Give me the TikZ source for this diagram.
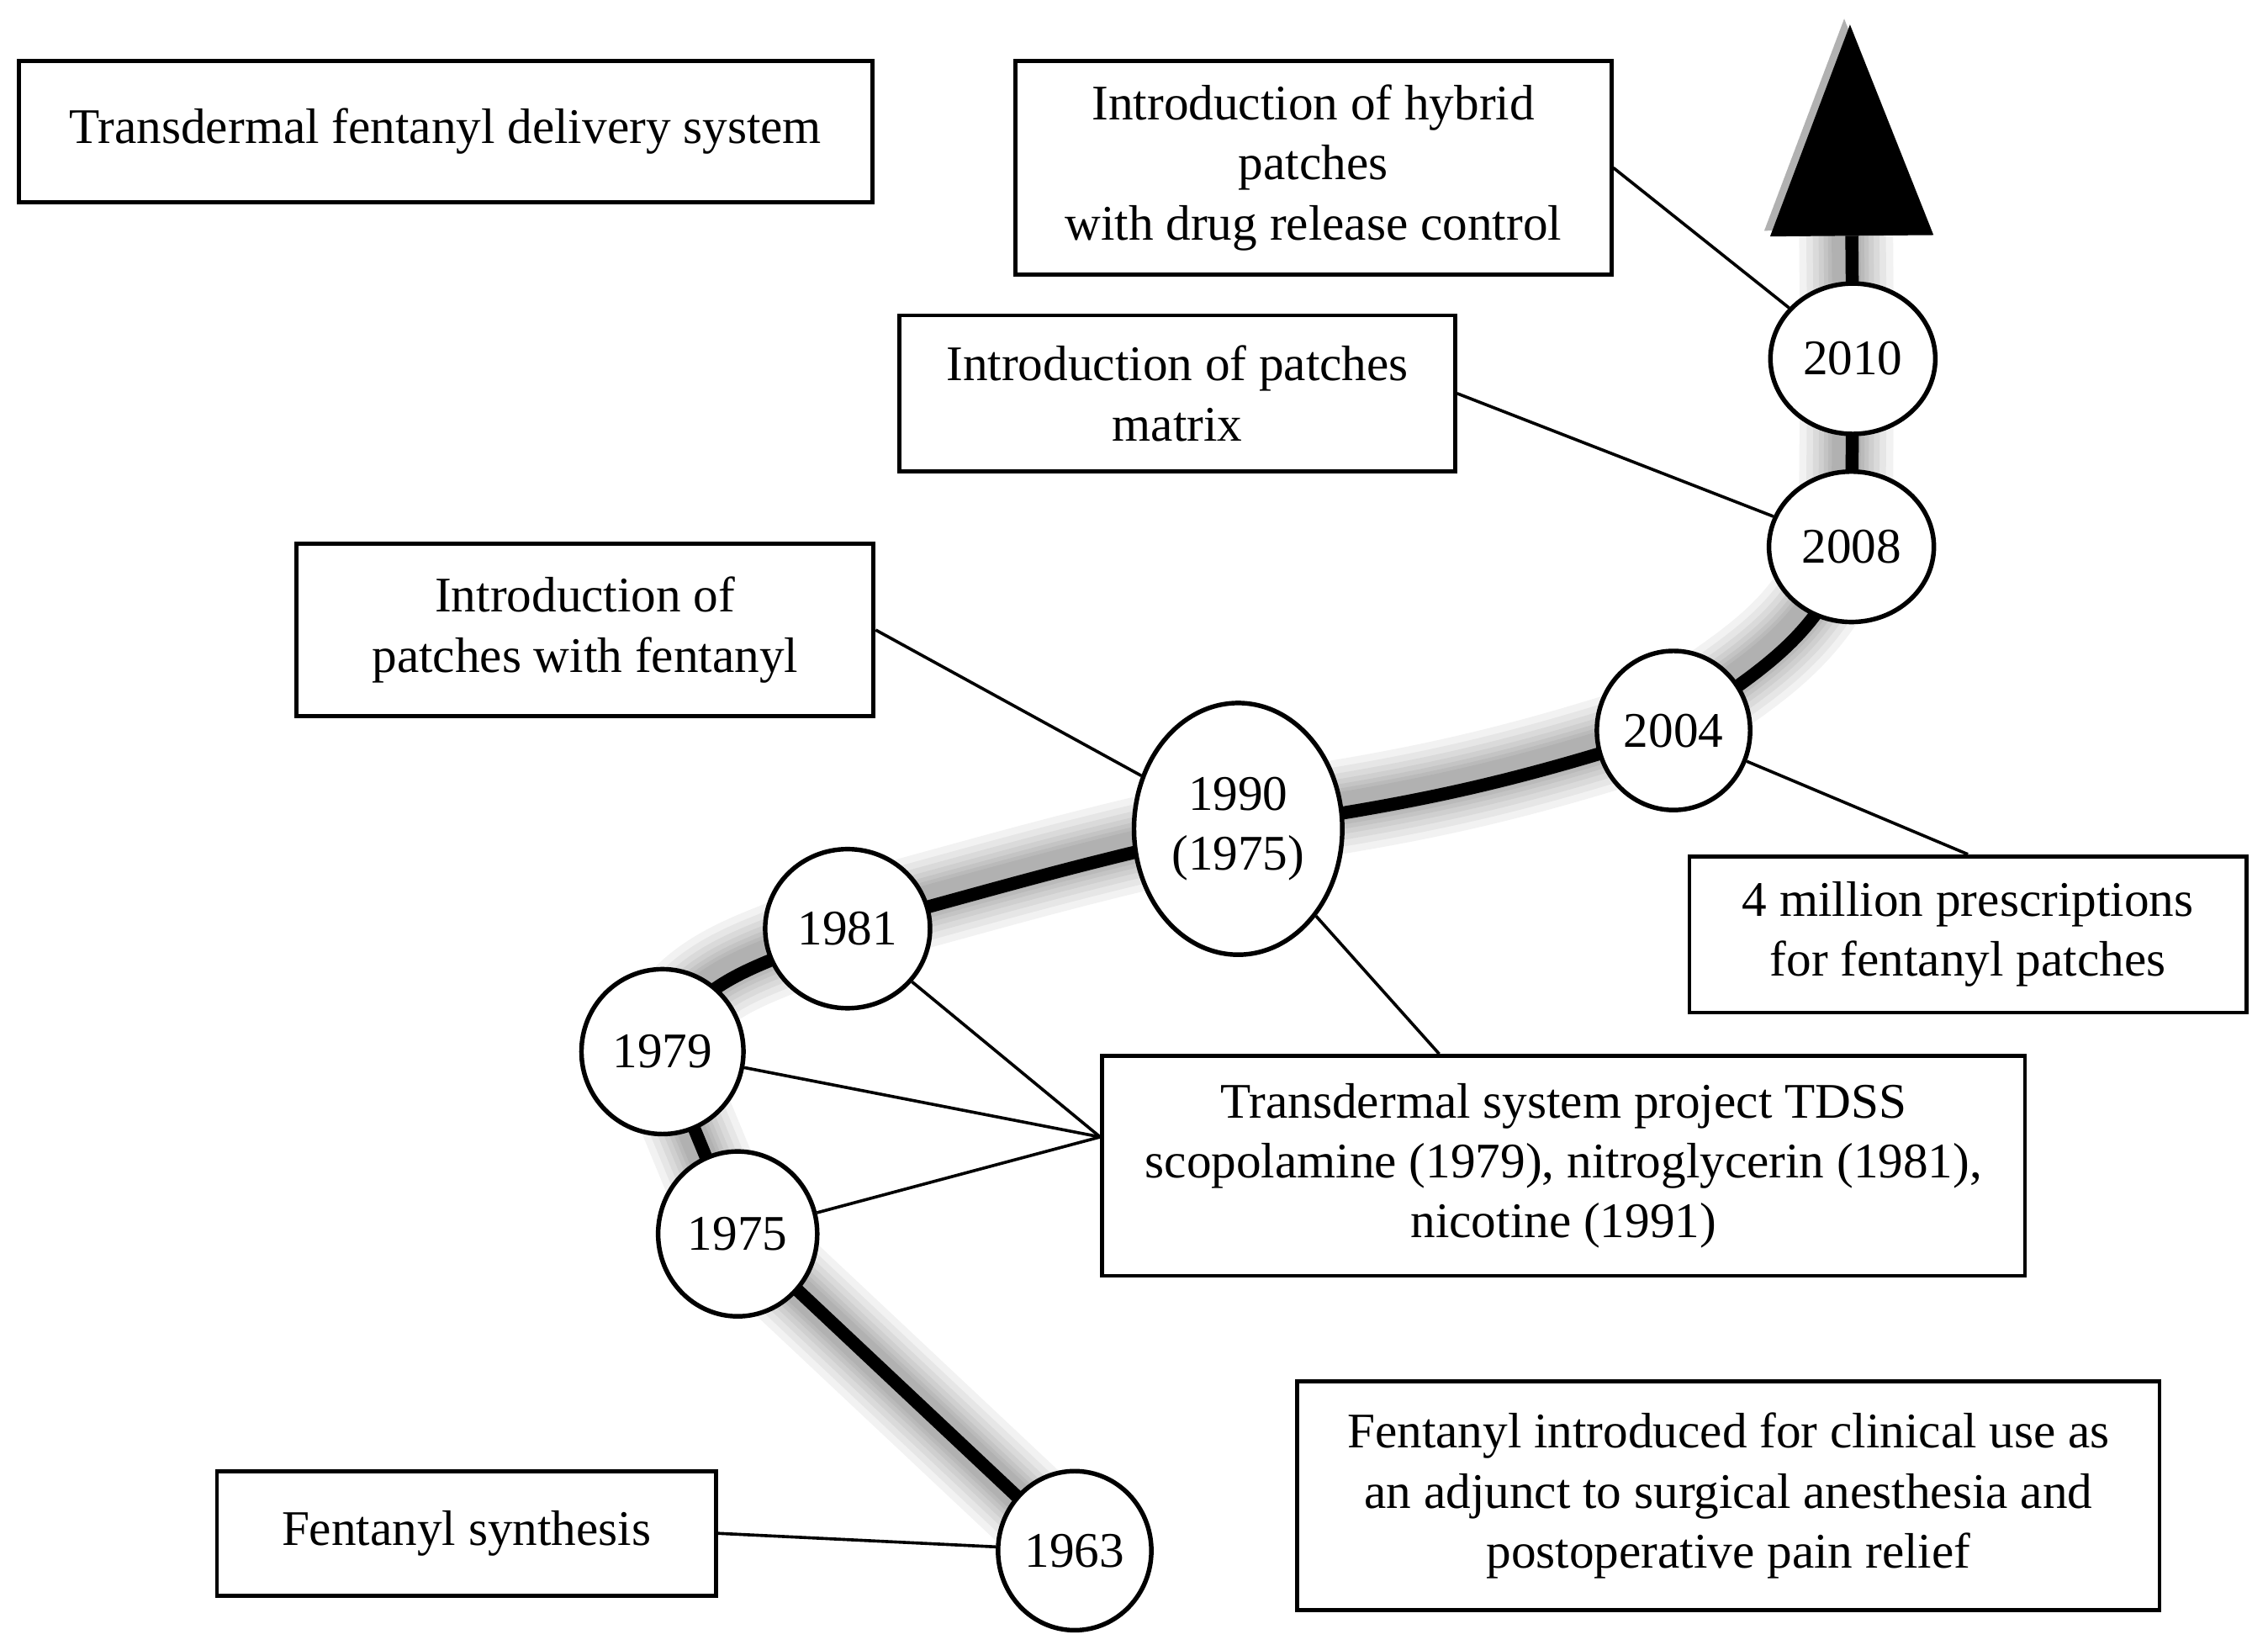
\documentclass[tikz,border=0pt]{standalone}
\usepackage{fontspec}
\setmainfont{Liberation Serif}
\usetikzlibrary{%
        arrows.meta,
        backgrounds,
        shapes.geometric,
    }
\tikzset{%
    note/.style={%
        draw,
        line width=0.8pt,
        fill=white,
        align=center,
        inner sep=0pt,
    },
    year/.style={%
        draw,
        ellipse,
        line width=0.9pt,
        fill=white,
        align=center,
        inner sep=0pt,
    },
    link/.style={%
        line width=0.6pt,
    },
    glow/.style={%
        preaction={%
            draw,
            opacity=0.05,
            line width=#1,
            transform canvas={shift={(-0.4mm, 0.4mm)}},
        },
    },
    timeline/.style={%
        line width=0.9mm,
        -{Triangle[length=14.6mm, width=11.3mm, line width=0pt]},
        glow=6.5mm, glow=5.5mm, glow=4.6mm, glow=3.8mm,
        glow=3.1mm, glow=2.5mm, glow=2mm,
    },
}

\begin{document}
\begin{tikzpicture}[x=0.1mm, y=0.1mm, font=\fontsize{9.8}{11.8}\selectfont]

    \useasboundingbox (0, 0) rectangle (1568, -1137);

    %%%%%%%%%
    % Notes %
    %%%%%%%%%
    \node[note, minimum width=59mm, minimum height=9.8mm]
        (title) at (308, -91) {Transdermal fentanyl delivery system};
    \node[note, minimum width=41.2mm, minimum height=14.8mm]
        (hybrid) at (908, -116) {%
            Introduction of hybrid\\
            patches\\
            with drug release control
        };
    \node[note, minimum width=38.4mm, minimum height=10.8mm]
        (matrix) at (814, -272) {%
            Introduction of patches\\
            matrix
        };
    \node[note, minimum width=39.9mm, minimum height=11.9mm]
        (withfent) at (404.5, -435.5) {%
            Introduction of\\
            patches with fentanyl
        };
    \node[note, minimum width=38.5mm, minimum height=10.8mm]
        (million) at (1360.5, -646) {%
            4 million prescriptions\\
            for fentanyl patches
        };
    \node[note, minimum width=63.8mm, minimum height=15.2mm]
        (tdss) at (1081, -806) {%
            Transdermal system project TDSS\\
            scopolamine (1979), nitroglycerin (1981),\\
            nicotine (1991)
        };
    \node[note, minimum width=59.6mm, minimum height=15.8mm]
        (clinical) at (1195, -1034) {%
            Fentanyl introduced for clinical use as\\
            an adjunct to surgical anesthesia and\\
            postoperative pain relief
        };
    \node[note, minimum width=34.5mm, minimum height=8.6mm]
        (synth) at (322.5, -1060) {Fentanyl synthesis};

    %%%%%%%%%
    % Years %
    %%%%%%%%%
    \foreach \yr/\x/\y/\w/\h in {%
        1963/743/1072/10.6/11,
        1975/510/853/11/11.4,
        1979/458/727/11.2/11.4,
        1981/586/642/11.4/11,
        2004/1157/505/10.6/11,
        2008/1280/378/11.4/10.4,
        2010/1281/248/11.4/10.4%
    }{%
        \node[year, minimum width=\w mm, minimum height=\h mm]
            (y\yr) at (\x, -\y) {\yr};
    };
    \node[year, minimum width=14.4mm, minimum height=17.4mm]
        (y1990) at (856, -573) {1990\\(1975)};
    \coordinate (tip) at (1279, -17);

    %%%%%%%%%%%%
    % Timeline %
    %%%%%%%%%%%%
    \begin{scope}[on background layer]
        \draw[timeline] (y1963.center) -- (y1975.center) -- (y1979.center)
            to[out=65, in=205] (y1981.center)
            to[out=15, in=192] (y1990.center)
            to[out=8, in=198] (y2004.center)
            to[out=35, in=-110] (y2008.center)
            -- (y2010.center) -- (tip);
    \end{scope}

    %%%%%%%%%
    % Links %
    %%%%%%%%%
    \draw[link] (hybrid.east) -- (y2010);
    \draw[link] (matrix.east) -- (y2008);
    \draw[link] (withfent.east) -- (y1990);
    \draw[link] (y2004) -- (million.north);
    \draw[link] (y1990) -- ([xshift=-8.6mm] tdss.north);
    \coordinate (tdss-in) at ([yshift=2mm] tdss.west);
    \foreach \yr in {1975, 1979, 1981}{%
        \draw[link] (tdss-in) -- (y\yr);
    };
    \draw[link] (synth.east) -- (y1963);

\end{tikzpicture}
\end{document}
